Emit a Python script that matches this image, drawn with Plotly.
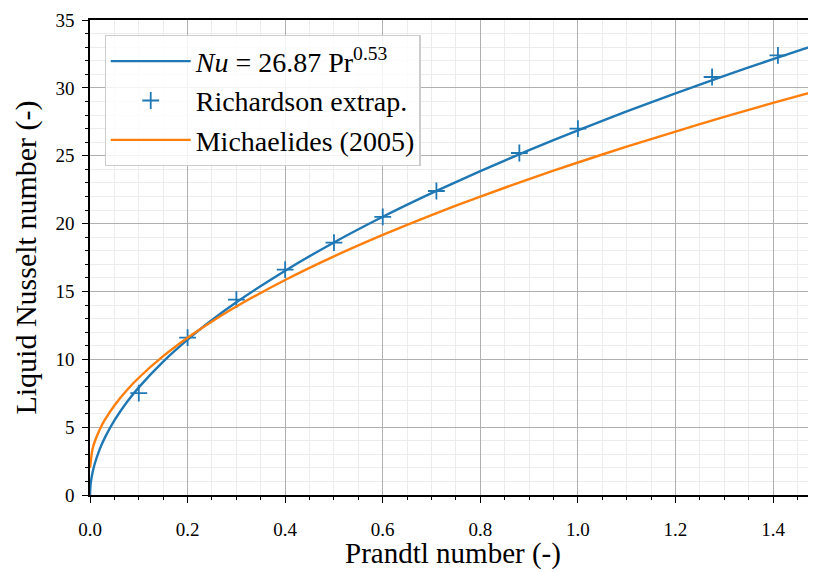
import plotly.graph_objects as go

# Nu = 26.87 Pr^0.53 fit
fit_pr = [0.0, 0.001, 0.002, 0.005, 0.01, 0.02, 0.03, 0.05, 0.075, 0.1, 0.15, 0.2, 0.25, 0.3,
          0.4, 0.5, 0.6, 0.7, 0.8, 0.9, 1.0, 1.1, 1.2, 1.3, 1.4, 1.5]
fit_nu = [0.0, 0.69, 1.00, 1.62, 2.34, 3.38, 4.19, 5.49, 6.81, 7.93, 9.83, 11.45, 12.89, 14.20,
          16.53, 18.61, 20.50, 22.24, 23.87, 25.41, 26.87, 28.26, 29.60, 30.88, 32.12, 33.31]

# Richardson extrapolated points
rich_pr = [0.1, 0.2, 0.3, 0.4, 0.5, 0.6, 0.71, 0.88, 1.0, 1.275, 1.41]
rich_nu = [7.5, 11.6, 14.4, 16.6, 18.6, 20.5, 22.4, 25.2, 27.0, 30.8, 32.4]

# Michaelides (2005) correlation
mich_pr = [0.0, 0.005, 0.01, 0.02, 0.03, 0.05, 0.075, 0.1, 0.15, 0.2, 0.25, 0.3,
           0.4, 0.5, 0.6, 0.7, 0.8, 0.9, 1.0, 1.1, 1.2, 1.3, 1.4, 1.5]
mich_nu = [2.0, 3.36, 3.96, 4.83, 5.51, 6.60, 7.70, 8.64, 10.23, 11.59, 12.79, 13.89,
           15.84, 17.58, 19.16, 20.63, 21.99, 23.28, 24.50, 25.67, 26.78, 27.86, 28.89, 29.89]

blue = '#1f77b4'
orange = '#ff7f0e'
font = 'Liberation Serif'

fig = go.Figure()
fig.add_trace(go.Scatter(x=fit_pr, y=fit_nu, mode='lines', name='<i>Nu</i> = 26.87 Pr<sup>0.53</sup>',
                         line=dict(color=blue, width=2.4, shape='spline', smoothing=0.6)))
fig.add_trace(go.Scatter(x=rich_pr, y=rich_nu, mode='markers', name='Richardson extrap.',
                         marker=dict(symbol='cross-thin', size=12, line=dict(color=blue, width=1.8))))
fig.add_trace(go.Scatter(x=mich_pr, y=mich_nu, mode='lines', name='Michaelides (2005)',
                         line=dict(color=orange, width=2.4, shape='spline', smoothing=0.6)))

# page body has an 8px margin, so the figure is offset by 8px
fig.update_layout(
    width=808, height=562,
    margin=dict(l=82, r=0, t=12, b=75),
    plot_bgcolor='white', paper_bgcolor='white',
    font=dict(family=font, color='black', size=18),
    legend=dict(x=0.02, y=0.968, xanchor='left', yanchor='top',
                bgcolor='rgba(255,255,255,0.85)', bordercolor='#cccccc', borderwidth=1.2,
                font=dict(size=28, family=font), itemwidth=80, tracegroupgap=0),
    showlegend=True,
)
fig.update_xaxes(
    range=[0, 1.488], dtick=0.2, tickformat='.1f', automargin=False,
    showline=True, linecolor='black', linewidth=1.5, mirror=True,
    ticks='outside', ticklen=6, tickcolor='black', ticklabelstandoff=10,
    showgrid=True, gridcolor='#b0b0b0', gridwidth=1, zeroline=False,
    minor=dict(dtick=0.05, ticks='outside', ticklen=3.5, tickcolor='black',
               showgrid=True, gridcolor='#ececec', gridwidth=1),
    title=dict(text='Prandtl number (-)', font=dict(size=29, family=font), standoff=1),
    tickfont=dict(size=19, family=font),
)
fig.update_yaxes(
    range=[0, 35], dtick=5, automargin=False,
    showline=True, linecolor='black', linewidth=1.5, mirror=False,
    ticks='outside', ticklen=6, tickcolor='black', ticklabelstandoff=4,
    showgrid=True, gridcolor='#b0b0b0', gridwidth=1, zeroline=False,
    minor=dict(dtick=1, ticks='outside', ticklen=3.5, tickcolor='black',
               showgrid=True, gridcolor='#ececec', gridwidth=1),
    title=dict(text='Liquid Nusselt number (-)', font=dict(size=30, family=font), standoff=10),
    tickfont=dict(size=19, family=font),
)

fig.write_html("out.html")
